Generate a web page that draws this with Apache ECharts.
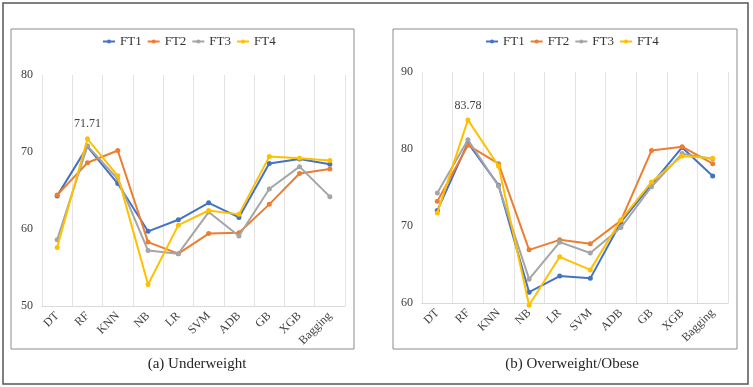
<!DOCTYPE html>
<html>
<head>
<meta charset="utf-8">
<script src="https://cdn.jsdelivr.net/npm/echarts@6/dist/echarts.min.js"></script>
<style>
  html, body { margin: 0; padding: 0; background: #fff; }
  #chart { width: 753px; height: 387px; }
</style>
</head>
<body>
<div id="chart"></div>
<script>
const categories = ["DT", "RF", "KNN", "NB", "LR", "SVM", "ADB", "GB", "XGB", "Bagging"];
const seriesNames = ["FT1", "FT2", "FT3", "FT4"];
const colors = ["#4472C4", "#ED7D31", "#A5A5A5", "#FFC000"];

// (a) Underweight
const underFT1 = [64.3, 70.7, 65.9, 59.7, 61.2, 63.4, 61.5, 68.5, 69.1, 68.4];
const underFT2 = [64.4, 68.6, 70.2, 58.3, 56.8, 59.4, 59.5, 63.2, 67.2, 67.8];
const underFT3 = [58.6, 70.8, 66.5, 57.2, 56.8, 62.2, 59.1, 65.2, 68.1, 64.2];
const underFT4 = [57.6, 71.71, 66.9, 52.8, 60.5, 62.4, 61.9, 69.4, 69.2, 68.9];

// (b) Overweight/Obese
const overFT1 = [72.0, 80.8, 75.3, 61.4, 63.5, 63.2, 70.5, 75.4, 80.2, 76.5];
const overFT2 = [73.2, 80.5, 78.1, 66.9, 68.2, 67.7, 70.7, 79.8, 80.3, 78.1];
const overFT3 = [74.3, 81.2, 75.2, 63.1, 67.9, 66.5, 69.8, 75.1, 79.4, 78.7];
const overFT4 = [71.7, 83.78, 77.8, 59.7, 66.0, 64.3, 70.8, 75.7, 79.1, 78.8];

const underData = [underFT1, underFT2, underFT3, underFT4];
const overData = [overFT1, overFT2, overFT3, overFT4];

const serif = "'Liberation Serif', 'DejaVu Serif', serif";
const chart = echarts.init(document.getElementById("chart"));

function makeSeries(data, idx) {
  return data.map((values, i) => ({
    name: seriesNames[i],
    type: "line",
    xAxisIndex: idx,
    yAxisIndex: idx,
    data: values.map((v, j) => {
      // only the best FT4 score on RF carries a label
      if (i === 3 && j === 1) {
        return {
          value: v,
          label: { show: true, position: "top", distance: 6, formatter: v.toFixed(2), fontFamily: serif, fontSize: 12, color: "#404040" }
        };
      }
      return v;
    }),
    symbol: "circle",
    symbolSize: 5,
    clip: false,
    color: colors[i],
    lineStyle: { color: colors[i], width: 2 },
    itemStyle: { color: colors[i] },
    z: 2 + i
  }));
}

function xAxis(idx) {
  return {
    type: "category",
    gridIndex: idx,
    data: categories,
    boundaryGap: true,
    axisLine: { lineStyle: { color: "#d9d9d9" } },
    axisTick: { show: false },
    splitLine: { show: true, lineStyle: { color: "#e3e3e3" } },
    axisLabel: { rotate: 45, interval: 0, fontFamily: serif, fontSize: 12, color: "#404040", margin: 8 }
  };
}

function yAxis(idx, min, max) {
  return {
    type: "value",
    gridIndex: idx,
    min: min,
    max: max,
    interval: 10,
    axisLine: { show: false },
    axisTick: { show: false },
    splitLine: { show: false },
    axisLabel: { fontFamily: serif, fontSize: 12, color: "#404040", margin: 9 }
  };
}

function legend(startX) {
  return {
    data: seriesNames,
    left: startX,
    top: 35,
    padding: 0,
    itemWidth: 12,
    itemHeight: 5,
    itemGap: 5,
    textStyle: { fontFamily: serif, fontSize: 13, color: "#333" }
  };
}

chart.setOption({
  animation: false,
  grid: [
    { left: 42, width: 303, top: 75, height: 231 },
    { left: 422, width: 306, top: 72, height: 231 }
  ],
  legend: [legend(102), legend(485)],
  title: [
    { text: "(a) Underweight", left: 192, top: 352, textAlign: "center",
      textStyle: { fontFamily: serif, fontSize: 15, fontWeight: "normal", color: "#262626" } },
    { text: "(b) Overweight/Obese", left: 567, top: 352, textAlign: "center",
      textStyle: { fontFamily: serif, fontSize: 15, fontWeight: "normal", color: "#262626" } }
  ],
  graphic: [
    { type: "rect", shape: { x: 3, y: 3, width: 745, height: 381 }, style: { fill: "none", stroke: "#555", lineWidth: 1.5 }, silent: true },
    { type: "rect", shape: { x: 11, y: 29, width: 343, height: 320 }, style: { fill: "none", stroke: "#8c8c8c", lineWidth: 1 }, silent: true },
    { type: "rect", shape: { x: 393, y: 29, width: 344, height: 320 }, style: { fill: "none", stroke: "#8c8c8c", lineWidth: 1 }, silent: true }
  ],
  xAxis: [xAxis(0), xAxis(1)],
  yAxis: [yAxis(0, 50, 80), yAxis(1, 60, 90)],
  series: [...makeSeries(underData, 0), ...makeSeries(overData, 1)]
});
</script>
</body>
</html>
